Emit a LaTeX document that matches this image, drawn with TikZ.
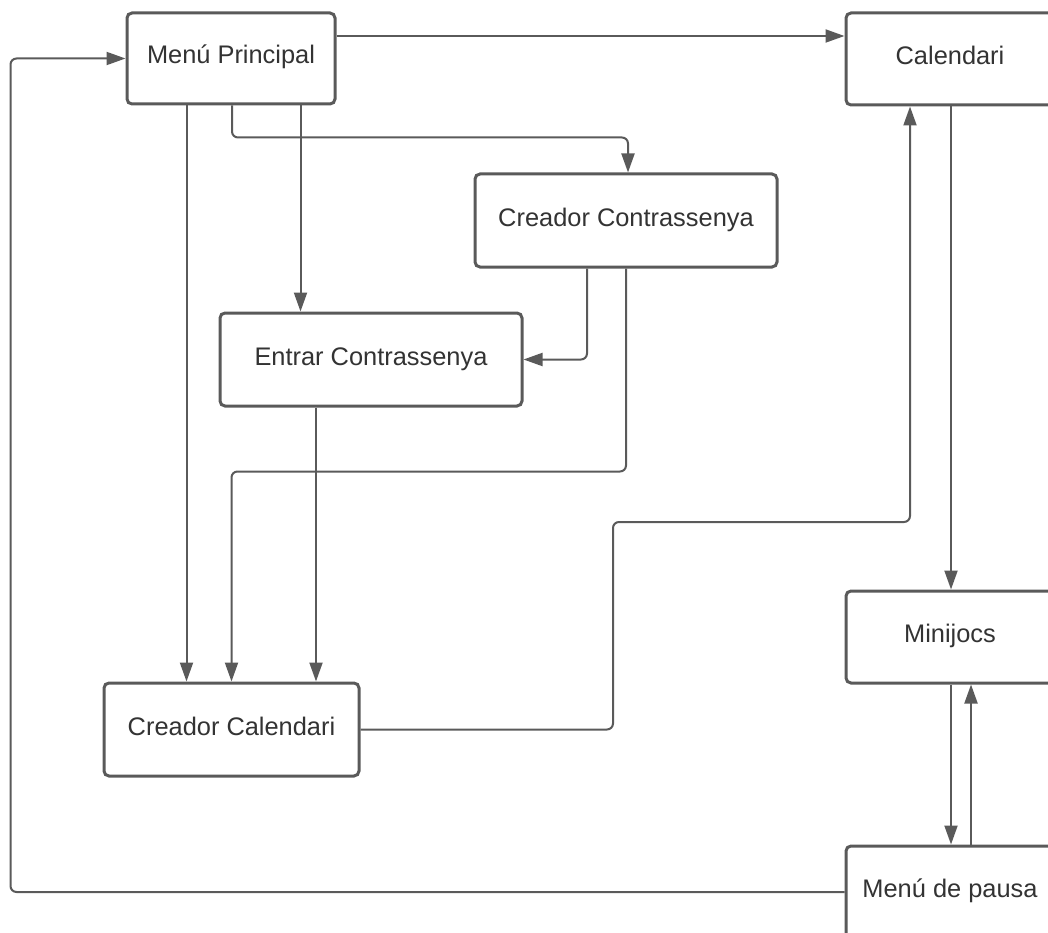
\documentclass[tikz,border=0pt]{standalone}
\usepackage{fontspec}
\setmainfont{Liberation Sans}
\usetikzlibrary{arrows.meta}
\definecolor{edge}{HTML}{5A5A5A}
\definecolor{ink}{HTML}{333333}
\tikzset{
  stepbox/.style={draw=edge, line width=3pt, rounded corners=5pt, fill=white,
    inner sep=0pt, text=ink, font=\fontsize{25.4}{30}\selectfont,
    text height=18pt, text depth=7pt},
  arr/.style={draw=edge, line width=2pt, rounded corners=6pt,
    -{Triangle[length=19pt,width=13pt]}},
}
\begin{document}
\begin{tikzpicture}[x=1pt,y=-1pt]
\useasboundingbox (0,0) rectangle (1048,933);
\clip (0,0) rectangle (1048,933);

% screens
\node[stepbox, minimum width=208pt, minimum height=91pt] (mp)   at (231,58.5)  {Menú Principal};
\node[stepbox, minimum width=208pt, minimum height=92pt] (cal)  at (950,59)    {Calendari};
\node[stepbox, minimum width=302pt, minimum height=93pt] (cc)   at (626,220.5) {Creador Contrassenya};
\node[stepbox, minimum width=302pt, minimum height=93pt] (ec)   at (371,359.5) {Entrar Contrassenya};
\node[stepbox, minimum width=255pt, minimum height=93pt] (ccal) at (231.5,729.5) {Creador Calendari};
\node[stepbox, minimum width=208pt, minimum height=92pt] (mj)   at (950,637)   {Minijocs};
\node[stepbox, minimum width=208pt, minimum height=92pt] (mpa)  at (950,892)   {Menú de pausa};

\coordinate (bend) at (613,522);

% transitions
\draw[arr] ([yshift=22.5pt]mp.east) -- ([yshift=22.5pt]mp.east -| cal.west);
\draw[arr] ([xshift=-44.5pt]mp.south) -- ([xshift=-44.5pt]mp.south |- ccal.north);
\draw[arr] ([xshift=1pt]mp.south) |- ([xshift=2pt,yshift=35pt]cc.north) -- ([xshift=2pt]cc.north);
\draw[arr] ([xshift=69.5pt]mp.south) -- ([xshift=69.5pt]mp.south |- ec.north);
\draw[arr] ([xshift=-39pt]cc.south) |- (ec.east);
\draw[arr] (cc.south) |- ([yshift=210pt]ccal.north) -- (ccal.north);
\draw[arr] ([xshift=-55pt]ec.south) -- ([xshift=-55pt]ec.south |- ccal.north);
\draw[arr] (ccal.east) -| (bend) -| ([xshift=-40pt]cal.south);
\draw[arr] ([xshift=1pt]cal.south) -- ([xshift=1pt]mj.north);
\draw[arr] ([xshift=1pt]mj.south) -- ([xshift=1pt]mpa.north);
\draw[arr] ([xshift=21pt]mpa.north) -- ([xshift=21pt]mj.south);
\draw[arr] (mpa.west) -| ([xshift=-115pt]mp.west) -- (mp.west);
\end{tikzpicture}
\end{document}
